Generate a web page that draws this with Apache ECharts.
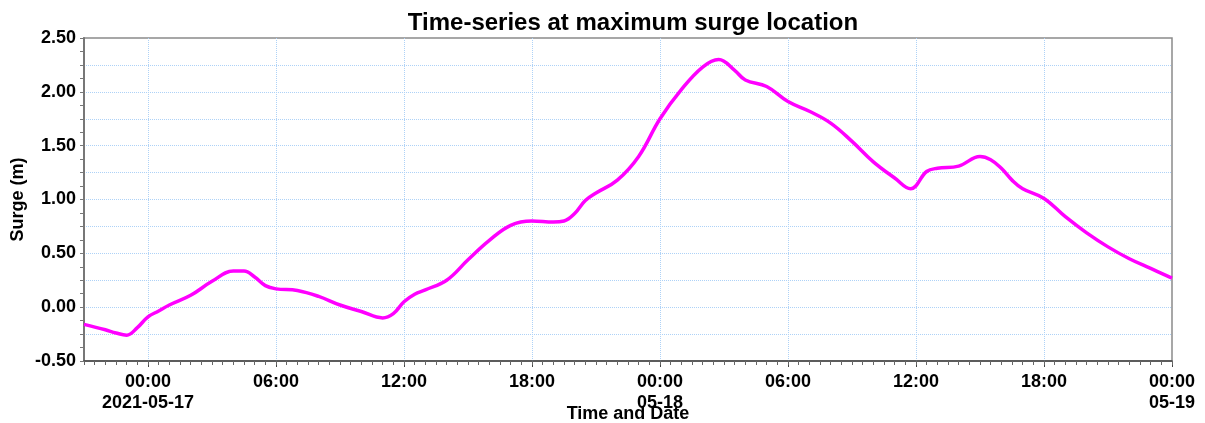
<!DOCTYPE html>
<html>
<head>
<meta charset="utf-8">
<script src="https://cdn.jsdelivr.net/npm/echarts@6/dist/echarts.min.js"></script>
<style>html,body{margin:0;padding:0;background:#fff}#c{width:1205px;height:423px}</style>
</head>
<body>
<div id="c"></div>
<script>
const times = [
  '2021-05-16 21:00','2021-05-16 22:00','2021-05-16 22:30','2021-05-16 23:00','2021-05-16 23:30',
  '2021-05-17 00:00','2021-05-17 00:30','2021-05-17 01:00','2021-05-17 02:00','2021-05-17 03:00',
  '2021-05-17 04:00','2021-05-17 04:30','2021-05-17 05:00','2021-05-17 05:30','2021-05-17 06:00',
  '2021-05-17 07:00','2021-05-17 08:00','2021-05-17 09:00','2021-05-17 10:00','2021-05-17 11:00',
  '2021-05-17 11:30','2021-05-17 12:00','2021-05-17 12:30','2021-05-17 13:00','2021-05-17 14:00',
  '2021-05-17 15:00','2021-05-17 16:00','2021-05-17 17:00','2021-05-17 18:00','2021-05-17 19:00',
  '2021-05-17 19:30','2021-05-17 20:00','2021-05-17 20:30','2021-05-17 21:00','2021-05-17 22:00',
  '2021-05-17 23:00','2021-05-18 00:00','2021-05-18 01:00','2021-05-18 02:00','2021-05-18 02:45',
  '2021-05-18 03:30','2021-05-18 04:00','2021-05-18 05:00','2021-05-18 06:00',
  '2021-05-18 07:00','2021-05-18 08:00','2021-05-18 09:00','2021-05-18 10:00','2021-05-18 11:00',
  '2021-05-18 11:45','2021-05-18 12:30','2021-05-18 13:00','2021-05-18 14:00',
  '2021-05-18 15:00','2021-05-18 15:30','2021-05-18 16:00','2021-05-18 16:30','2021-05-18 17:00',
  '2021-05-18 18:00','2021-05-18 19:00','2021-05-18 20:00','2021-05-18 21:00','2021-05-18 22:00',
  '2021-05-18 23:00','2021-05-19 00:00'
];
const surge = [
  -0.16,-0.21,-0.24,-0.26,-0.19,
  -0.09,-0.035,0.02,0.11,0.24,
  0.335,0.335,0.28,0.20,0.17,
  0.155,0.10,0.02,-0.04,-0.10,
  -0.06,0.05,0.12,0.16,0.25,
  0.44,0.62,0.76,0.80,0.79,
  0.80,0.87,0.99,1.06,1.18,
  1.40,1.75,2.02,2.23,2.30,
  2.20,2.11,2.05,1.91,
  1.82,1.71,1.54,1.35,1.20,
  1.10,1.26,1.29,1.31,
  1.40,1.37,1.29,1.18,1.10,
  1.01,0.84,0.69,0.56,0.45,
  0.36,0.27
];
const xMin = '2021-05-16 21:00';
const xMax = '2021-05-19 00:00';
const xTicks = [
  '2021-05-17 00:00','2021-05-17 06:00','2021-05-17 12:00','2021-05-17 18:00',
  '2021-05-18 00:00','2021-05-18 06:00','2021-05-18 12:00','2021-05-18 18:00',
  '2021-05-19 00:00'
];
const xTickLabels = [
  '00:00\n2021-05-17','06:00','12:00','18:00',
  '00:00\n05-18','06:00','12:00','18:00',
  '00:00\n05-19'
];
const yTicks = [-0.5, 0, 0.5, 1.0, 1.5, 2.0, 2.5];

function toMs(s){ const p = s.split(/[- :]/).map(Number); return Date.UTC(p[0], p[1]-1, p[2], p[3], p[4]); }
const majorMs = xTicks.map(toMs);
const minorMs = [];
for (let t = toMs(xMin); t <= toMs(xMax); t += 1800000) minorMs.push(t);

const FONT = 'Liberation Sans, Arial, sans-serif';
const grid = '#aed2f7';
const chart = echarts.init(document.getElementById('c'), null, {renderer: 'canvas'});
chart.setOption({
  animation: false,
  title: {
    text: 'Time-series at maximum surge location',
    left: 628, textAlign: 'center', top: 6,
    textStyle: {fontFamily: FONT, fontSize: 24, fontWeight: 'bold', color: '#000'}
  },
  grid: {left: 84, right: 33, top: 38, bottom: 62, outerBoundsMode: 'none', containLabel: false,
         show: true, borderColor: '#8a8a8a', borderWidth: 1.5, backgroundColor: '#fff'},
  xAxis: [{
    type: 'value',
    min: toMs(xMin), max: toMs(xMax),
    name: 'Time and Date', nameLocation: 'middle', nameGap: 44, nameMoveOverlap: false,
    nameTextStyle: {fontFamily: FONT, fontSize: 18, fontWeight: 'bold', color: '#000'},
    axisLine: {onZero: false, lineStyle: {color: '#444', width: 1.5}},
    axisTick: {show: true, length: 6, customValues: majorMs, lineStyle: {color: '#444'}},
    minorTick: {show: false},
    splitLine: {show: true, showMinLine: true, showMaxLine: false, lineStyle: {color: grid, type: 'dotted', width: 1}},
    axisLabel: {
      customValues: majorMs,
      fontFamily: FONT, fontSize: 18, fontWeight: 'bold', color: '#000', margin: 11, lineHeight: 21,
      hideOverlap: false, showMinLabel: true, showMaxLabel: true,
      formatter: function (v) {
        const i = majorMs.indexOf(v);
        return i >= 0 ? xTickLabels[i] : '';
      }
    }
  }, {
    type: 'value',
    min: toMs(xMin), max: toMs(xMax),
    position: 'bottom',
    axisLine: {show: false, onZero: false},
    axisTick: {show: true, length: 4, customValues: minorMs, lineStyle: {color: '#666'}},
    axisLabel: {show: false},
    splitLine: {show: false}
  }],
  yAxis: {
    type: 'value',
    min: -0.5, max: 2.5, interval: 0.25,
    name: 'Surge (m)', nameLocation: 'middle', nameGap: 57, nameMoveOverlap: false,
    nameTextStyle: {fontFamily: FONT, fontSize: 18, fontWeight: 'bold', color: '#000'},
    axisLine: {show: true, lineStyle: {color: '#777', width: 2}},
    axisTick: {show: true, length: 4, lineStyle: {color: '#777'}},
    minorTick: {show: true, splitNumber: 2, length: 4, lineStyle: {color: '#777'}},
    splitLine: {show: true, showMinLine: false, showMaxLine: false, lineStyle: {color: grid, type: 'dotted', width: 1}},
    axisLabel: {
      fontFamily: FONT, fontSize: 18, fontWeight: 'bold', color: '#000', margin: 8,
      formatter: function (v) {
        for (const t of yTicks) { if (Math.abs(t - v) < 1e-6) return v.toFixed(2); }
        return '';
      }
    }
  },
  series: [{
    type: 'line',
    xAxisIndex: 0,
    data: times.map((t, i) => [toMs(t), surge[i]]),
    smooth: 0.4,
    showSymbol: false,
    lineStyle: {color: '#ff00ff', width: 3.5},
    itemStyle: {color: '#ff00ff'}
  }]
});
</script>
</body>
</html>
